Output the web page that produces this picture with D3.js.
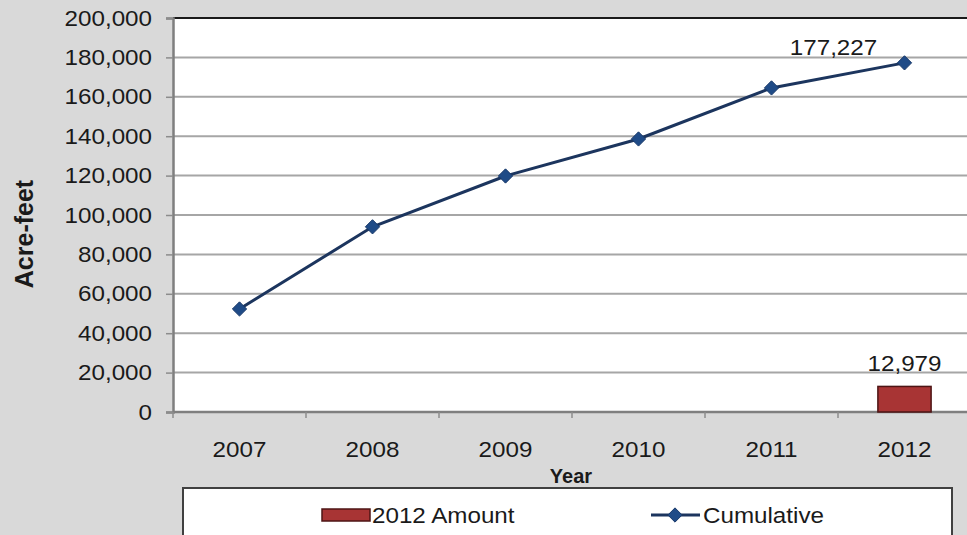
<!DOCTYPE html>
<html>
<head>
<meta charset="utf-8">
<script src="https://cdn.jsdelivr.net/npm/d3@7"></script>
<style>
  html, body { margin: 0; padding: 0; background: #d9d9d9; }
  svg { display: block; }
  text { font-family: "Liberation Sans", Arial, sans-serif; fill: #1a1a1a; }
</style>
</head>
<body>
<svg id="chart" width="967" height="535"></svg>
<script>
const years = ["2007", "2008", "2009", "2010", "2011", "2012"];
const cumulative = [52300, 94000, 119800, 138600, 164500, 177227];
const amount2012 = [null, null, null, null, null, 12979];
const yTicks = [0, 20000, 40000, 60000, 80000, 100000, 120000, 140000, 160000, 180000, 200000];
const legendLabels = ["2012 Amount", "Cumulative"];
const pointLabels = [{ year: "2012", value: 177227, text: "177,227" }];
const barLabels = [{ year: "2012", value: 12979, text: "12,979" }];

const SX = 1.1; // horizontal stretch of the text, as in the reference
const svg = d3.select("#chart");
const W = 967, H = 535;
const m = { left: 173, top: 18, right: 971, bottom: 412 };

svg.append("rect").attr("width", W).attr("height", H).attr("fill", "#d9d9d9");

const x = d3.scaleBand().domain(years).range([m.left, m.right]).paddingInner(0).paddingOuter(0);
const y = d3.scaleLinear().domain([0, 200000]).range([m.bottom, m.top]);

function stretchedText(g, ax, ay, txt, size, anchor) {
  return g.append("text")
    .attr("x", ax / SX).attr("y", ay)
    .attr("transform", `scale(${SX},1)`)
    .attr("text-anchor", anchor || "start")
    .attr("font-size", size).text(txt);
}

// plot area
svg.append("rect").attr("x", m.left).attr("y", m.top)
  .attr("width", m.right - m.left).attr("height", m.bottom - m.top).attr("fill", "#ffffff");

// gridlines
svg.append("g").selectAll("line").data(yTicks.filter(d => d > 0 && d < 200000)).join("line")
  .attr("x1", m.left).attr("x2", m.right)
  .attr("y1", d => y(d)).attr("y2", d => y(d))
  .attr("stroke", "#a6a6a6").attr("stroke-width", 2);
svg.append("line").attr("x1", m.left).attr("x2", m.right)
  .attr("y1", y(200000)).attr("y2", y(200000))
  .attr("stroke", "#1a1a1a").attr("stroke-width", 2);

// y axis
const yAxis = d3.axisLeft(y).tickValues(yTicks).tickFormat(d3.format(",")).tickSize(7).tickPadding(14);
const gy = svg.append("g").attr("transform", `translate(${m.left},0)`).call(yAxis);
gy.select(".domain").attr("stroke", "#7f7f7f").attr("stroke-width", 2.5);
gy.selectAll(".tick line").attr("stroke", "#8c8c8c").attr("stroke-width", 1.5);
gy.selectAll(".tick text").attr("font-size", 22).attr("fill", "#1a1a1a")
  .style("font-family", "'Liberation Sans', Arial, sans-serif")
  .attr("x", -21 / SX).attr("transform", `scale(${SX},1)`);

// x axis
const xAxis = d3.axisBottom(x).tickSize(0).tickPadding(29);
const gx = svg.append("g").attr("transform", `translate(0,${m.bottom})`).call(xAxis);
gx.select(".domain").remove();
gx.selectAll(".tick text").attr("font-size", 22).attr("fill", "#1a1a1a")
  .style("font-family", "'Liberation Sans', Arial, sans-serif")
  .attr("transform", `scale(${SX},1)`);
svg.append("line").attr("x1", m.left).attr("x2", m.right)
  .attr("y1", m.bottom).attr("y2", m.bottom)
  .attr("stroke", "#7f7f7f").attr("stroke-width", 2.5);
const bounds = years.map(d => x(d)).concat([m.right]);
svg.append("g").selectAll("line").data(bounds).join("line")
  .attr("x1", d => d).attr("x2", d => d)
  .attr("y1", m.bottom).attr("y2", m.bottom + 6)
  .attr("stroke", "#8c8c8c").attr("stroke-width", 1.5);

// bars
const barW = x.bandwidth() * 0.4;
svg.append("g").selectAll("rect")
  .data(years.map((yr, i) => ({ yr, v: amount2012[i] })).filter(d => d.v != null))
  .join("rect")
  .attr("x", d => x(d.yr) + x.bandwidth() / 2 - barW / 2)
  .attr("y", d => y(d.v))
  .attr("width", barW)
  .attr("height", d => y(0) - y(d.v))
  .attr("fill", "#a83434").attr("stroke", "#4d1414").attr("stroke-width", 1.5);

// line
const pts = years.map((yr, i) => ({ yr, v: cumulative[i] }));
const line = d3.line().x(d => x(d.yr) + x.bandwidth() / 2).y(d => y(d.v));
svg.append("path").datum(pts).attr("d", line)
  .attr("fill", "none").attr("stroke", "#1c355e").attr("stroke-width", 3);
const diamond = d3.symbol().type(d3.symbolDiamond2).size(130);
svg.append("g").selectAll("path").data(pts).join("path")
  .attr("transform", d => `translate(${x(d.yr) + x.bandwidth() / 2},${y(d.v)})`)
  .attr("d", diamond).attr("fill", "#1f4b87").attr("stroke", "#1a3a6a").attr("stroke-width", 1);

// data labels
const lblG = svg.append("g");
pointLabels.forEach(d => stretchedText(lblG, x(d.year) + x.bandwidth() / 2 - 71, y(d.value) - 8, d.text, 22, "middle"));
barLabels.forEach(d => stretchedText(lblG, x(d.year) + x.bandwidth() / 2, y(d.value) - 15, d.text, 22, "middle"));

// axis titles
svg.append("text").attr("transform", "translate(33,234) rotate(-90)")
  .attr("text-anchor", "middle").attr("font-size", 25).attr("font-weight", "bold")
  .text("Acre-feet");
svg.append("text").attr("x", 571).attr("y", 483)
  .attr("text-anchor", "middle").attr("font-size", 20).attr("font-weight", "bold")
  .text("Year");

// legend
const lg = svg.append("g");
lg.append("rect").attr("x", 183).attr("y", 488).attr("width", 769).attr("height", 60)
  .attr("fill", "#ffffff").attr("stroke", "#404040").attr("stroke-width", 2);
lg.append("rect").attr("x", 322).attr("y", 509).attr("width", 48).attr("height", 12)
  .attr("fill", "#a83434").attr("stroke", "#4d1414").attr("stroke-width", 1.5);
stretchedText(lg, 372, 523, legendLabels[0], 22);
lg.append("line").attr("x1", 651).attr("x2", 700).attr("y1", 515).attr("y2", 515)
  .attr("stroke", "#1c355e").attr("stroke-width", 3);
lg.append("path").attr("transform", "translate(675,515)").attr("d", diamond)
  .attr("fill", "#1f4b87").attr("stroke", "#1a3a6a").attr("stroke-width", 1);
stretchedText(lg, 703, 523, legendLabels[1], 22);
</script>
</body>
</html>
